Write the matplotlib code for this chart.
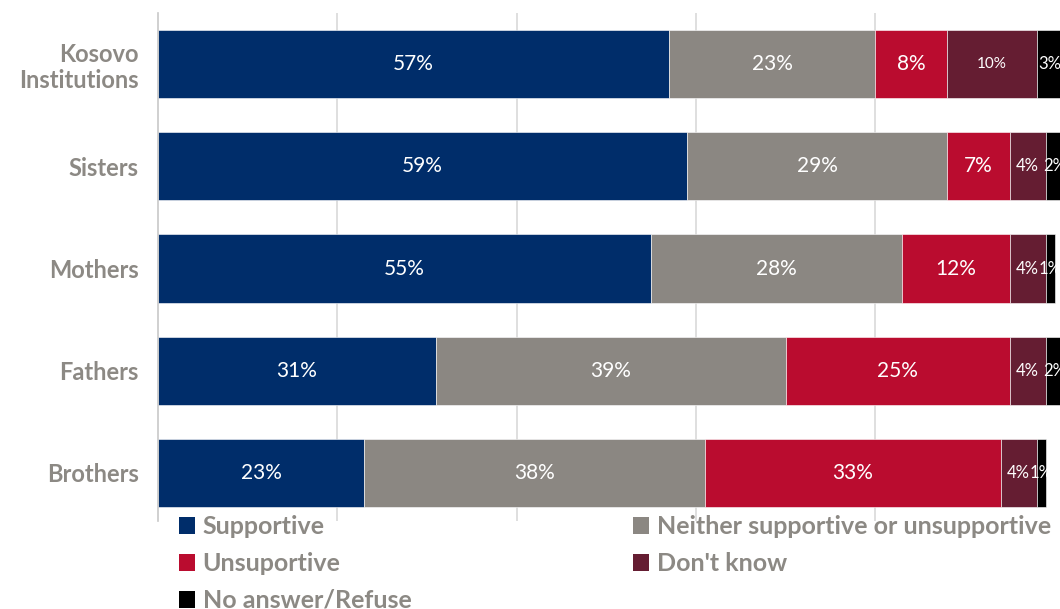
import matplotlib.pyplot as plt
from matplotlib.patches import Patch

plt.rcParams['font.family'] = ['Lato', 'DejaVu Sans']

groups = ['Kosovo\nInstitutions', 'Sisters', 'Mothers', 'Fathers', 'Brothers']
answers = ['Supportive', 'Neither supportive or unsupportive', 'Unsuportive',
           "Don't know", 'No answer/Refuse']
supportive = [57, 59, 55, 31, 23]
neither = [23, 29, 28, 39, 38]
unsupportive = [8, 7, 12, 25, 33]
dont_know = [10, 4, 4, 4, 4]
no_answer = [3, 2, 1, 2, 1]
series = [supportive, neither, unsupportive, dont_know, no_answer]

colors = ['#002D6A', '#8B8782', '#BA0C2F', '#651D32', '#000000']
label_gray = '#8C8984'

fig = plt.figure(figsize=(10.6, 6.09), dpi=100)
ax = fig.add_axes([158 / 1060, 1 - 521 / 609, 1 - 158 / 1060, 508 / 609])

ypos = list(range(len(groups)))
left = [0] * len(groups)
for i, vals in enumerate(series):
    ax.barh(ypos, vals, left=left, height=0.667, color=colors[i],
            edgecolor='white', linewidth=0.4, zorder=2)
    for y, (l, v) in enumerate(zip(left, vals)):
        fs = 15
        if i >= 3:
            fs = 11 if v >= 10 else 12
        ax.text(l + v / 2, y, f'{v}%', ha='center', va='center', color='white',
                fontsize=fs, zorder=3, clip_on=True)
    left = [a + b for a, b in zip(left, vals)]

# right end is cut a little past 100%
ax.set_xlim(0, 100.6)
ax.set_ylim(4.47, -0.5)
ax.set_yticks(ypos)
ax.set_yticklabels(groups, fontsize=17, fontweight='bold', color=label_gray,
                   linespacing=1.15)
ax.tick_params(axis='y', length=0, pad=14)
ax.set_xticks([20, 40, 60, 80])
ax.tick_params(axis='x', length=0, labelbottom=False)
ax.grid(axis='x', color='#D9D9D9', linewidth=1.2, zorder=0)
for s in ['top', 'right', 'bottom']:
    ax.spines[s].set_visible(False)
ax.spines['left'].set_color('#C8C8C8')
ax.spines['left'].set_linewidth(1.2)

handles = [Patch(facecolor=c, label=a) for c, a in zip(colors, answers)]
leg_kw = dict(frameon=False, prop={'weight': 'bold', 'size': 18},
              labelcolor=label_gray, handlelength=0.65, handleheight=0.65,
              handletextpad=0.3, labelspacing=0.56, borderaxespad=0, borderpad=0)
leg1 = fig.legend(handles=[handles[0], handles[2], handles[4]],
                  loc='upper left', bbox_to_anchor=(179 / 1060, 1 - 515 / 609), **leg_kw)
leg2 = fig.legend(handles=[handles[1], handles[3]],
                  loc='upper left', bbox_to_anchor=(633 / 1060, 1 - 515 / 609), **leg_kw)

fig.savefig('out.png', dpi=100)
